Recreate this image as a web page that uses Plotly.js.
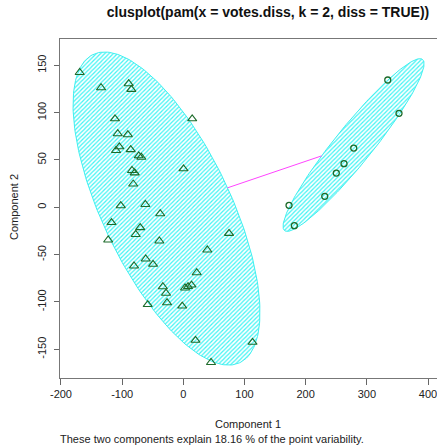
<!DOCTYPE html>
<html>
<head>
<meta charset="utf-8">
<script src="https://cdn.plot.ly/plotly-3.0.1.min.js"></script>
<style>html,body{margin:0;padding:0;overflow:hidden;background:#fff;}</style>
</head>
<body>
<div id="chart" style="width:437px;height:448px;"></div>
<script>
// Cluster 1 (triangles)
const c1x = [-169.4,-134.5,-89.3,-85.0,-111.7,14.5,-107.2,-90.7,-104.6,-110.0,-86.0,-72.9,-68.7,0.3,-83.9,-79.5,-81.9,-102.3,-62.1,-37.8,-117.4,-70.5,-77.8,-122.8,-39.2,39.2,74.7,-61.5,-49.5,-80.6,21.9,-33.5,-28.3,2.8,7.7,13.4,-58.2,-26.6,-1.8,19.9,113.1,45.3];
const c1y = [142.4,126.3,130.6,124.6,93.5,93.5,77.7,76.7,63.9,60.0,60.9,54.4,52.9,40.7,38.9,36.4,24.6,1.7,3.0,-6.8,-16.1,-21.5,-28.7,-34.5,-35.6,-45.1,-27.5,-54.6,-60.2,-62.0,-69.1,-83.9,-90.8,-85.2,-83.7,-82.1,-102.7,-100.8,-104.3,-140.5,-142.6,-163.9];
// Cluster 2 (circles)
const c2x = [334.2,352.6,278.6,262.7,250.1,231.2,172.8,181.5];
const c2y = [134.5,99.3,62.6,46.1,36.2,11.6,2.1,-19.4];
// Ellipse parameters (center, semi-axes, angle in degrees)
const ellCenterX = [-27.5, 278.3];
const ellCenterY = [-1.3, 65.8];
const ellA = [205.5, 145.0];
const ellB = [92.0, 24.5];
const ellAngle = [-48.4, 37.95];
const xTicks = [-200,-100,0,100,200,300,400];
const yTicks = [-150,-100,-50,0,50,100,150];

function ellipse(i){
  const th = ellAngle[i]*Math.PI/180, xs=[], ys=[];
  for(let k=0;k<=240;k++){
    const t = 2*Math.PI*k/240;
    const u = ellA[i]*Math.cos(t), v = ellB[i]*Math.sin(t);
    xs.push(ellCenterX[i] + u*Math.cos(th) - v*Math.sin(th));
    ys.push(ellCenterY[i] + u*Math.sin(th) + v*Math.cos(th));
  }
  return {xs, ys};
}
function boundary(i, j){
  const dx = ellCenterX[j]-ellCenterX[i], dy = ellCenterY[j]-ellCenterY[i];
  const th = ellAngle[i]*Math.PI/180;
  const u = (dx*Math.cos(th)+dy*Math.sin(th))/ellA[i];
  const v = (-dx*Math.sin(th)+dy*Math.cos(th))/ellB[i];
  const t = 1/Math.sqrt(u*u+v*v);
  return [ellCenterX[i]+t*dx, ellCenterY[i]+t*dy];
}
const traces = [];
[0,1].forEach(i=>{
  const e = ellipse(i);
  traces.push({x:e.xs, y:e.ys, type:'scatter', mode:'lines', fill:'toself',
    fillcolor:'rgba(0,0,0,0)',
    fillpattern:{shape:'/', fgcolor:'#40f4f4', bgcolor:'#ffffff', size:3, solidity:0.4},
    line:{color:'#3ef0f0', width:1}, hoverinfo:'skip'});
});
const p1 = boundary(0,1), p2 = boundary(1,0);
traces.push({x:[p1[0],p2[0]], y:[p1[1],p2[1]], type:'scatter', mode:'lines',
  line:{color:'#ff44ff', width:1}});
traces.push({x:c1x, y:c1y, type:'scatter', mode:'markers',
  marker:{symbol:'triangle-up-open', size:8, color:'#1d6b2a', line:{width:1.1}}});
traces.push({x:c2x, y:c2y, type:'scatter', mode:'markers',
  marker:{symbol:'circle-open', size:6, color:'#1d6b2a', line:{width:1.3}}});

const font = 'Liberation Sans, Arial, sans-serif';
const layout = {
  width:437, height:448, showlegend:false,
  margin:{l:60, r:0, t:39, b:70},
  paper_bgcolor:'#fff', plot_bgcolor:'#fff',
  font:{family:font, size:11, color:'#222'},
  title:{text:'clusplot(pam(x = votes.diss, k = 2, diss = TRUE))', x:268/437, xanchor:'center', y:1-12/448, yanchor:'middle', font:{family:font, size:14, color:'#111', weight:'bold'}},
  xaxis:{range:[-201.6,414.7], tickvals:xTicks, ticktext:xTicks.map(String), ticks:'outside', ticklen:6, tickcolor:'#666',
    ticklabeloverflow:'allow',
    showline:true, mirror:true, linecolor:'#777', linewidth:1, showgrid:false, zeroline:false, tickfont:{size:11, color:'#222'}},
  yaxis:{range:[-180.3,177.8], tickvals:yTicks, ticktext:yTicks.map(String), ticks:'outside', ticklen:5, tickcolor:'#666', tickangle:-90,
    ticklabelstandoff:4,
    showline:true, linecolor:'#777', linewidth:1, showgrid:false, zeroline:false, tickfont:{size:11, color:'#222'}},
  annotations:[
    {text:'Component 1', xref:'paper', yref:'paper', x:(248-60)/377, y:(378-424.3)/339, xanchor:'center', yanchor:'middle', showarrow:false, font:{size:11, color:'#222'}},
    {text:'These two components explain 18.16 % of the point variability.', xref:'paper', yref:'paper', x:(212-60)/377, y:(378-438.5)/339, xanchor:'center', yanchor:'middle', showarrow:false, font:{size:11, color:'#222'}},
    {text:'Component 2', xref:'paper', yref:'paper', x:(14-60)/377, y:(378-207)/339, xanchor:'center', yanchor:'middle', textangle:-90, showarrow:false, font:{size:11, color:'#222'}}
  ]
};
Plotly.newPlot('chart', traces, layout, {staticPlot:true, displayModeBar:false});
</script>
</body>
</html>
